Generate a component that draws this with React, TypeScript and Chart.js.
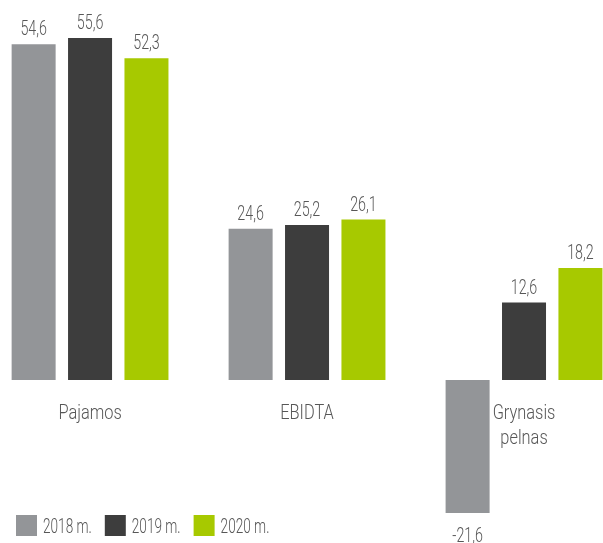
import React, { useEffect, useRef } from "react";
import { Chart, registerables } from "chart.js";

Chart.register(...registerables);

const categories: string[][] = [["Pajamos"], ["EBIDTA"], ["Grynasis", "pelnas"]];
const seriesLabels = ["2018 m.", "2019 m.", "2020 m."];
const values2018 = [54.6, 24.6, -21.6];
const values2019 = [55.6, 25.2, 12.6];
const values2020 = [52.3, 26.1, 18.2];
const colors = ["#939598", "#3d3d3d", "#a7c900"];

const FONT = 'Roboto, "Noto Sans", sans-serif';
const TEXT = "#575757";
const NUM_SQUEEZE = 0.68;
const WORD_SQUEEZE = 0.78;

function squeezedText(ctx: any, txt: string, x: number, y: number, squeeze: number, align: string) {
  ctx.save();
  ctx.translate(x, y);
  ctx.scale(squeeze, 1);
  ctx.textAlign = align;
  ctx.fillText(txt, 0, 0);
  ctx.restore();
}

const toPoints = (arr: number[]) => arr.map((v, i) => ({ x: i, y: v }));

const valueLabels = {
  id: "valueLabels",
  afterDatasetsDraw(chart: any) {
    const ctx = chart.ctx;
    ctx.save();
    ctx.font = `300 21px ${FONT}`;
    ctx.fillStyle = TEXT;
    chart.data.datasets.forEach((ds: any, i: number) => {
      const meta = chart.getDatasetMeta(i);
      meta.data.forEach((el: any, j: number) => {
        const v = ds.data[j].y as number;
        const txt = v.toFixed(1).replace(".", ",");
        if (v >= 0) {
          ctx.textBaseline = "alphabetic";
          squeezedText(ctx, txt, el.x, el.y - 9, NUM_SQUEEZE, "center");
        } else {
          ctx.textBaseline = "top";
          squeezedText(ctx, txt, el.x, el.y + 13, NUM_SQUEEZE, "center");
        }
      });
    });
    const xs = chart.scales.x;
    const zero = chart.scales.y.getPixelForValue(0);
    ctx.textBaseline = "alphabetic";
    categories.forEach((lines, i) => {
      const cx = xs.getPixelForValue(i);
      lines.forEach((line, k) => {
        squeezedText(ctx, line, cx, zero + 39 + k * 25, WORD_SQUEEZE, "center");
      });
    });
    ctx.restore();
  },
};

const customLegend = {
  id: "customLegend",
  afterDraw(chart: any) {
    const ctx = chart.ctx;
    ctx.save();
    ctx.font = `300 20px ${FONT}`;
    ctx.textBaseline = "alphabetic";
    let x = 16;
    const y = 515;
    const box = 21;
    chart.data.datasets.forEach((ds: any) => {
      ctx.fillStyle = ds.backgroundColor;
      ctx.fillRect(x, y, box, box);
      ctx.fillStyle = TEXT;
      const tx = x + box + 6;
      squeezedText(ctx, ds.label, tx, y + 18, NUM_SQUEEZE, "left");
      x = tx + ctx.measureText(ds.label).width * NUM_SQUEEZE + 13;
    });
    ctx.restore();
  },
};

export default function App() {
  const ref = useRef<HTMLCanvasElement>(null);
  useEffect(() => {
    if (!ref.current) return;
    const chart = new Chart(ref.current, {
      type: "bar",
      data: {
        datasets: [
          { label: seriesLabels[0], data: toPoints(values2018), backgroundColor: colors[0] },
          { label: seriesLabels[1], data: toPoints(values2019), backgroundColor: colors[1] },
          { label: seriesLabels[2], data: toPoints(values2020), backgroundColor: colors[2] },
        ],
      },
      options: {
        animation: false,
        responsive: true,
        maintainAspectRatio: false,
        layout: { padding: { left: 0, right: 0, top: 38, bottom: 30 } },
        datasets: { bar: { categoryPercentage: 0.78, barPercentage: 0.78 } },
        plugins: { legend: { display: false }, tooltip: { enabled: false } },
        scales: {
          y: { display: false, min: -21.6, max: 55.6 },
          x: {
            type: "linear",
            display: false,
            min: -0.415,
            max: 2.364,
            offset: false,
            afterBuildTicks: (scale: any) => {
              scale.ticks = categories.map((_, i) => ({ value: i }));
            },
          },
        },
      },
      plugins: [valueLabels, customLegend],
    });
    return () => chart.destroy();
  }, []);
  return (
    <div style={{ position: "fixed", left: 0, top: 0, width: 603, height: 543, background: "#fff" }}>
      <canvas ref={ref} />
    </div>
  );
}
